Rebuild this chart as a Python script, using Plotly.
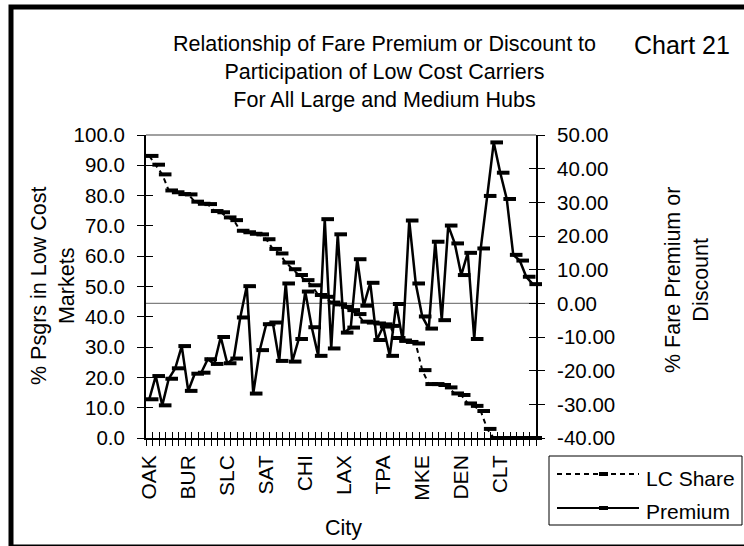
import plotly.graph_objects as go

# Hubs ordered by low-cost-carrier share; only every sixth hub is labelled on the axis
labeled_cities = ["OAK", "BUR", "SLC", "SAT", "CHI", "LAX", "TPA", "MKE", "DEN", "CLT"]
label_step = 6
n_hubs = 60

# % of passengers in low cost markets (left axis)
lc_share = [
    93.1, 90.2, 87.0, 81.7, 81.1, 80.5, 80.4, 78.0, 77.3, 77.2,
    74.9, 74.5, 72.8, 71.9, 68.4, 67.9, 67.4, 67.2, 65.6, 62.4,
    60.9, 57.9, 55.7, 53.8, 52.1, 50.4, 47.2, 46.6, 44.7, 44.1,
    43.3, 42.2, 40.9, 38.4, 38.1, 37.8, 37.5, 37.0, 33.0, 32.1,
    31.7, 31.2, 22.4, 17.8, 17.8, 17.5, 16.7, 14.7, 14.2, 11.4,
    10.6, 8.9, 3.0, 0.0, 0.0, 0.0, 0.0, 0.0, 0.0, 0.0,
]

# % fare premium (+) or discount (-) (right axis)
premium = [
    -28.5, -21.6, -30.3, -22.4, -19.3, -12.7, -26.0, -20.9, -20.6, -16.6,
    -18.0, -10.0, -17.8, -16.4, -4.2, 5.1, -26.8, -13.9, -6.2, -5.7,
    -17.1, 5.9, -17.3, -10.6, 3.5, -7.1, -15.6, 25.0, -13.4, 20.5,
    -8.7, -7.2, 13.1, -0.7, 6.1, -10.9, -6.9, -15.6, -0.2, -11.1,
    24.6, 5.9, -3.9, -7.5, 18.3, -5.0, 23.1, 17.8, 8.4, 15.0,
    -10.6, 16.3, 31.9, 47.8, 38.8, 31.0, 14.4, 12.7, 7.9, 5.7,
]

left_ticks = list(range(0, 101, 10))
right_ticks = list(range(-40, 51, 10))
right_ticktext = [f"{v:.2f}" for v in right_ticks]  # plain hyphen for negatives

FONT = "Liberation Sans, Arial, sans-serif"
W, H = 744, 546
L, R, T, B = 146, 536, 135, 438  # plot area in pixels


def px(x):
    return (x - L) / (R - L)


def py(y):
    return (B - y) / (B - T)


x = list(range(1, n_hubs + 1))
boundaries = [i + 0.5 for i in range(0, n_hubs + 1)]
label_pos = list(range(1, n_hubs + 1, label_step))[: len(labeled_cities)]
mark_shift = 0.45  # dash markers sit just right of each vertex
xm = [v + mark_shift for v in x]

fig = go.Figure()

# LC Share: dashed line with dash markers
fig.add_trace(go.Scatter(x=x, y=lc_share, mode="lines", yaxis="y",
                         line=dict(color="black", width=2, dash="5px,4px"),
                         cliponaxis=False, hoverinfo="skip", showlegend=False))
fig.add_trace(go.Scatter(x=xm, y=lc_share, mode="markers", yaxis="y",
                         marker=dict(symbol="line-ew", size=9,
                                     line=dict(color="black", width=4)),
                         cliponaxis=False, hoverinfo="skip", showlegend=False))

# Premium: solid line with dash markers on the secondary axis
fig.add_trace(go.Scatter(x=x, y=premium, mode="lines", yaxis="y2",
                         line=dict(color="black", width=2.5),
                         cliponaxis=False, hoverinfo="skip", showlegend=False))
fig.add_trace(go.Scatter(x=xm, y=premium, mode="markers", yaxis="y2",
                         marker=dict(symbol="line-ew", size=9,
                                     line=dict(color="black", width=4)),
                         cliponaxis=False, hoverinfo="skip", showlegend=False))

# invisible anchors so the overlay axes (inner tick halves, city labels) are drawn
for xa, ya in [("x2", "y"), ("x3", "y"), ("x", "y3"), ("x", "y4")]:
    fig.add_trace(go.Scatter(x=[1], y=[1], xaxis=xa, yaxis=ya, mode="markers",
                             marker=dict(opacity=0), hoverinfo="skip",
                             showlegend=False))

axis_common = dict(showgrid=False, zeroline=False, tickcolor="black",
                   tickwidth=1.3, tickfont=dict(family=FONT, size=20.5, color="black"))

fig.update_layout(
    width=W, height=H, autosize=False,
    margin=dict(l=L, r=W - R, t=T, b=H - B, pad=0),
    paper_bgcolor="white", plot_bgcolor="white",
    font=dict(family=FONT, color="black"),
    showlegend=False,
    xaxis=dict(range=[0.5, n_hubs + 0.5], tickmode="array", tickvals=boundaries,
               ticks="outside", ticklen=6, showticklabels=False,
               showline=True, linecolor="black", linewidth=2, **axis_common),
    xaxis2=dict(overlaying="x", anchor="y", side="bottom", range=[0.5, n_hubs + 0.5],
                tickmode="array", tickvals=boundaries, ticks="inside", ticklen=6,
                showticklabels=False, showline=False, **axis_common),
    xaxis3=dict(overlaying="x", anchor="y", side="bottom", range=[0.5, n_hubs + 0.5],
                tickmode="array", tickvals=label_pos, ticktext=labeled_cities,
                ticks="", tickangle=-90, ticklabelstandoff=12, showline=False,
                **{**axis_common, "tickfont": dict(family=FONT, size=21, color="black")}),
    yaxis=dict(range=[0, 100], tickmode="array", tickvals=left_ticks,
               ticktext=[f"{v:.1f}" for v in left_ticks], ticks="outside", ticklen=7,
               ticklabelstandoff=8, showline=True, linecolor="black", linewidth=2,
               **axis_common),
    yaxis2=dict(overlaying="y", anchor="x", side="right", range=[-40, 50],
                tickmode="array", tickvals=right_ticks, ticktext=right_ticktext,
                ticks="outside", ticklen=7, ticklabelstandoff=8, showline=True,
                linecolor="black", linewidth=2, **axis_common),
    yaxis3=dict(overlaying="y", anchor="x", side="left", range=[0, 100],
                tickmode="array", tickvals=left_ticks, ticks="inside", ticklen=7,
                showticklabels=False, showline=False, **axis_common),
    yaxis4=dict(overlaying="y", anchor="x", side="right", range=[-40, 50],
                tickmode="array", tickvals=right_ticks, ticks="inside", ticklen=7,
                showticklabels=False, showline=False, **axis_common),
)

shapes = [
    # outer chart frame
    dict(type="rect", xref="paper", yref="paper", x0=px(11), x1=px(760),
         y0=py(547), y1=py(7), line=dict(color="black", width=5)),
    # top edge of plot area
    dict(type="line", xref="paper", yref="paper", x0=0, x1=1, y0=1, y1=1,
         line=dict(color="#808080", width=1.5)),
    # zero reference of the premium axis
    dict(type="line", xref="paper", yref="y2", x0=0, x1=1, y0=0, y1=0,
         line=dict(color="#808080", width=1.2), layer="below"),
    # legend box
    dict(type="rect", xref="paper", yref="paper", x0=px(549), x1=px(742),
         y0=py(525), y1=py(456), line=dict(color="black", width=1),
         fillcolor="white"),
    # legend keys
    dict(type="line", xref="paper", yref="paper", x0=px(557), x1=px(639),
         y0=py(474), y1=py(474), line=dict(color="black", width=2, dash="5px,4px")),
    dict(type="rect", xref="paper", yref="paper", x0=px(599), x1=px(608),
         y0=py(476), y1=py(472), line=dict(width=0), fillcolor="black"),
    dict(type="line", xref="paper", yref="paper", x0=px(557), x1=px(639),
         y0=py(508), y1=py(508), line=dict(color="black", width=2)),
    dict(type="rect", xref="paper", yref="paper", x0=px(599), x1=px(608),
         y0=py(510), y1=py(506), line=dict(width=0), fillcolor="black"),
]
fig.update_layout(shapes=shapes)

ann = [
    dict(text="Relationship of Fare Premium or Discount to<br>"
              "Participation of Low Cost Carriers<br>For All Large and Medium Hubs",
         x=px(384), y=py(72), font=dict(size=21.5)),
    dict(text="Chart 21", x=px(682), y=py(45), font=dict(size=25)),
    dict(text="% Psgrs in Low Cost<br>Markets", x=px(52.5), y=py(286.5),
         textangle=-90, font=dict(size=21.5)),
    dict(text="% Fare Premium or<br>Discount", x=px(687), y=py(280),
         textangle=-90, font=dict(size=21.5)),
    dict(text="City", x=px(343.5), y=py(528), font=dict(size=21.5)),
    dict(text="LC Share", x=px(644), y=py(478), xanchor="left", font=dict(size=21)),
    dict(text="Premium", x=px(644), y=py(511), xanchor="left", font=dict(size=21)),
]
for a in ann:
    a.setdefault("xanchor", "center")
    fig.add_annotation(xref="paper", yref="paper", yanchor="middle", showarrow=False,
                       **a)
    fig.layout.annotations[-1].font.family = FONT
    fig.layout.annotations[-1].font.color = "black"

fig.write_html("out.html")
